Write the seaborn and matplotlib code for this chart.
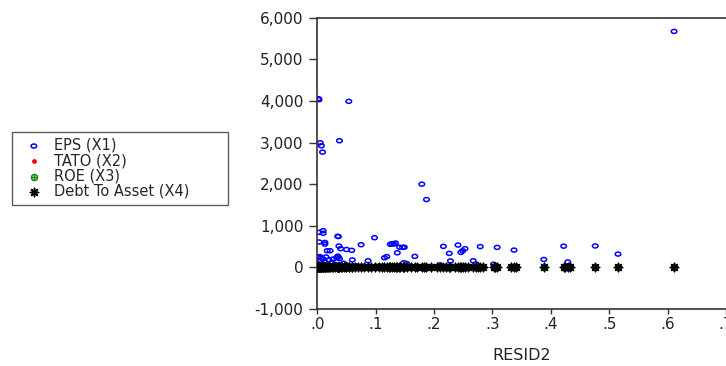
import numpy as np
import pandas as pd
import matplotlib
matplotlib.use("Agg")
import matplotlib.pyplot as plt
import seaborn as sns
from matplotlib.ticker import FuncFormatter
from matplotlib.path import Path

# ---- data ----
resid2 = [0.611, 0.002, 0.003, 0.054, 0.005, 0.007, 0.009, 0.038, 0.179, 0.187,
          0.002, 0.010, 0.010, 0.035, 0.036, 0.003, 0.013, 0.013, 0.037, 0.040,
          0.050, 0.059, 0.075, 0.098, 0.125, 0.128, 0.131, 0.134, 0.137, 0.141,
          0.146, 0.149, 0.017, 0.022, 0.087, 0.115, 0.119, 0.167, 0.148, 0.153,
          0.216, 0.226, 0.228, 0.241, 0.246, 0.249, 0.253, 0.267, 0.279, 0.308,
          0.337, 0.388, 0.422, 0.429, 0.476, 0.515, 0.302, 0.210, 0.272,
          0.001, 0.004, 0.007, 0.010, 0.012, 0.015, 0.020, 0.025, 0.027, 0.033,
          0.035, 0.036, 0.038, 0.045, 0.050, 0.060, 0.065, 0.000, 0.002, 0.005,
          0.008, 0.018, 0.030, 0.042, 0.055, 0.070, 0.080, 0.092, 0.105, 0.110,
          0.122, 0.140, 0.160, 0.170, 0.183, 0.195, 0.205, 0.220, 0.235, 0.244,
          0.258, 0.275, 0.283, 0.305, 0.332, 0.340, 0.425, 0.432]
eps = [5670, 4055, 4030, 3990, 2995, 2923, 2770, 3043, 2000, 1630,
       843, 882, 820, 747, 740, 610, 600, 560, 513, 450,
       430, 410, 545, 713, 555, 570, 560, 585, 350, 485,
       480, 485, 400, 400, 160, 230, 260, 265, 110, 95,
       505, 337, 155, 537, 360, 400, 450, 160, 500, 480,
       416, 190, 510, 130, 515, 320, 75, 60, 80,
       240, 260, 230, 200, 150, 250, 180, 120, 200, 230,
       270, 250, 210, 100, 60, 180, 40, 100, 50, 150,
       80, 30, 70, 20, 10, 15, 20, 10, 30, 15,
       5, 20, 10, 5, 10, 5, 10, 20, 5, 15,
       10, 10, 5, 10, 5, 10, 5, 10]
tato = [1.1, 0.8, 0.9, 1.2, 0.7, 1.0, 0.6, 1.3, 0.9, 1.1,
        0.8, 1.0, 0.7, 1.2, 0.9, 1.4, 0.6, 1.0, 0.8, 1.1,
        0.9, 0.7, 1.2, 1.0, 0.8, 0.6, 1.1, 0.9, 1.3, 0.7,
        1.0, 0.8, 1.2, 0.9, 0.6, 1.1, 0.8, 1.0, 0.7, 1.2,
        0.9, 1.1, 0.8, 1.0, 0.6, 1.3, 0.9, 0.7, 1.1, 0.8,
        1.0, 0.9, 1.2, 0.7, 0.8, 1.1, 0.9, 1.0, 0.6,
        1.2, 0.8, 1.0, 0.9, 0.7, 1.1, 0.8, 1.3, 0.9, 1.0,
        0.7, 1.2, 0.8, 1.0, 0.9, 0.6, 1.1, 0.8, 1.0, 0.9,
        1.2, 0.7, 1.0, 0.8, 1.1, 0.9, 0.6, 1.0, 0.8, 1.2,
        0.9, 1.1, 0.7, 1.0, 0.8, 0.9, 1.1, 0.7, 1.0, 0.8,
        1.2, 0.9, 1.0, 0.8, 0.7, 1.1, 0.9, 1.0]
roe = [0.15, 0.12, 0.10, 0.18, 0.08, 0.11, 0.09, 0.14, 0.13, 0.10,
       0.07, 0.12, 0.09, 0.16, 0.11, 0.10, 0.08, 0.13, 0.12, 0.09,
       0.11, 0.10, 0.14, 0.12, 0.09, 0.08, 0.13, 0.10, 0.11, 0.12,
       0.09, 0.10, 0.14, 0.08, 0.07, 0.11, 0.12, 0.10, 0.09, 0.13,
       0.12, 0.10, 0.08, 0.14, 0.11, 0.09, 0.12, 0.07, 0.13, 0.10,
       0.11, 0.09, 0.12, 0.08, 0.14, 0.10, 0.09, 0.11, 0.08,
       0.12, 0.10, 0.09, 0.11, 0.08, 0.13, 0.10, 0.12, 0.09, 0.11,
       0.10, 0.12, 0.08, 0.11, 0.09, 0.10, 0.13, 0.07, 0.11, 0.10,
       0.12, 0.09, 0.10, 0.08, 0.11, 0.12, 0.09, 0.10, 0.11, 0.08,
       0.12, 0.10, 0.09, 0.11, 0.10, 0.08, 0.12, 0.09, 0.11, 0.10,
       0.12, 0.09, 0.10, 0.11, 0.08, 0.10, 0.12, 0.09]
dta = [0.45, 0.50, 0.38, 0.55, 0.42, 0.60, 0.48, 0.52, 0.40, 0.58,
       0.47, 0.53, 0.44, 0.50, 0.61, 0.39, 0.46, 0.54, 0.49, 0.43,
       0.57, 0.41, 0.52, 0.48, 0.55, 0.45, 0.50, 0.42, 0.59, 0.47,
       0.44, 0.53, 0.49, 0.40, 0.56, 0.48, 0.51, 0.43, 0.58, 0.46,
       0.50, 0.44, 0.55, 0.47, 0.52, 0.41, 0.49, 0.57, 0.45, 0.53,
       0.48, 0.42, 0.56, 0.50, 0.44, 0.51, 0.47, 0.54, 0.43,
       0.49, 0.52, 0.46, 0.55, 0.41, 0.50, 0.47, 0.53, 0.44, 0.58,
       0.48, 0.45, 0.51, 0.42, 0.56, 0.49, 0.46, 0.52, 0.43, 0.50,
       0.47, 0.55, 0.44, 0.51, 0.48, 0.53, 0.40, 0.49, 0.57, 0.45,
       0.52, 0.46, 0.50, 0.43, 0.54, 0.47, 0.51, 0.44, 0.56, 0.48,
       0.45, 0.53, 0.49, 0.42, 0.55, 0.47, 0.50, 0.46]

series_labels = ["EPS (X1)", "TATO (X2)", "ROE (X3)", "Debt To Asset (X4)"]
x_label = "RESID2"
y_ticks = [-1000, 0, 1000, 2000, 3000, 4000, 5000, 6000]
x_ticks = [0.0, 0.1, 0.2, 0.3, 0.4, 0.5, 0.6, 0.7]

df = pd.DataFrame({"RESID2": resid2, "EPS": eps, "TATO": tato, "ROE": roe, "DTA": dta})

sns.set_theme(style="white")
plt.rcParams["font.family"] = ["DejaVu Sans"]
plt.rcParams["font.size"] = 10.5

W, H = 726, 366
fig = plt.figure(figsize=(W / 100, H / 100), dpi=100)
ax = fig.add_axes([317.3 / W, 1 - 309 / H, (726 - 317.3) / W, (309 - 17.7) / H])

# horizontally stretched ellipse marker (like the reference's open circles)
t = np.linspace(0, 2 * np.pi, 33)
ellipse = Path(np.column_stack([np.cos(t), 0.72 * np.sin(t)]), closed=True)
asterisk = (8, 2, 0)

sns.scatterplot(data=df, x="RESID2", y="EPS", ax=ax, marker=ellipse, s=16,
                facecolors="none", edgecolor="#0000ff", linewidth=1.1,
                label=series_labels[0], zorder=2)
sns.scatterplot(data=df, x="RESID2", y="TATO", ax=ax, marker="o", s=12,
                color="#ff0000", edgecolor="#ff0000", linewidth=0,
                label=series_labels[1], zorder=3)
sns.scatterplot(data=df, x="RESID2", y="ROE", ax=ax, marker=r"$\oplus$", s=25,
                color="#008000", edgecolor="#008000", linewidth=0.4,
                label=series_labels[2], zorder=4)
sns.scatterplot(data=df, x="RESID2", y="DTA", ax=ax, marker=asterisk, s=36,
                color="black", edgecolor="black", linewidth=1.1,
                label=series_labels[3], zorder=5)

ax.set_xlim(0, 0.7)
ax.set_ylim(-1000, 6000)
ax.set_xticks(x_ticks)
ax.set_yticks(y_ticks)
ax.xaxis.set_major_formatter(FuncFormatter(lambda v, p: ("%.1f" % v).lstrip("0")))
ax.yaxis.set_major_formatter(FuncFormatter(lambda v, p: f"{int(v):,}"))
ax.tick_params(axis="y", direction="out", length=6, width=1, color="#333333",
               labelsize=11, pad=4, left=True, labelcolor="#222222")
ax.tick_params(axis="x", direction="out", length=3.5, width=1, color="#333333",
               labelsize=11, pad=2, bottom=True, labelcolor="#222222")
ax.set_xlabel(x_label, fontsize=11.5, color="#222222", labelpad=12)
ax.set_ylabel("")
for side in ["left", "top", "bottom"]:
    ax.spines[side].set_color("#333333")
    ax.spines[side].set_linewidth(1.2)
ax.spines["right"].set_visible(False)
ax.grid(False)

handles, labels = ax.get_legend_handles_labels()
ax.get_legend().remove()
leg = fig.legend(handles, labels, loc="upper left", mode="expand",
                 bbox_to_anchor=(12 / W, 1 - 205 / H, 216 / W, 73 / H),
                 frameon=True, fancybox=False, edgecolor="#333333",
                 fontsize=10.5, handletextpad=0.3, labelspacing=0.02,
                 borderpad=0.4, handlelength=2.2, borderaxespad=0)
leg.get_frame().set_linewidth(1.0)

fig.savefig("out.png", dpi=100)
